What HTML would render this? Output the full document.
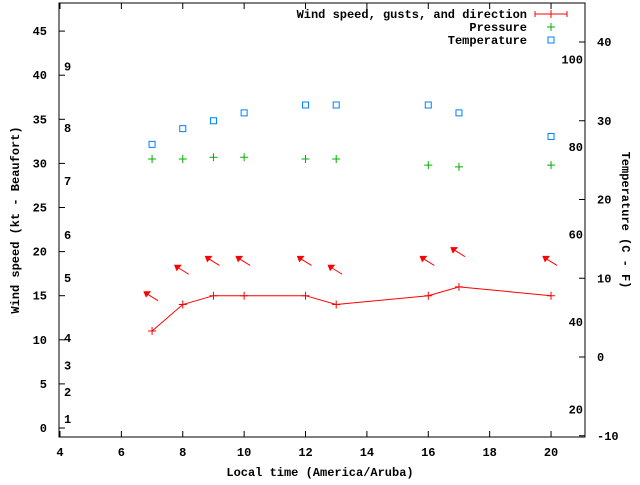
<!DOCTYPE html>
<html><head><meta charset="utf-8"><style>
body{margin:0;background:#fff}
svg text{font-family:"Liberation Mono",monospace;font-size:12px;font-weight:bold;fill:#000}
</style></head><body>
<svg id="c" width="640" height="480" xmlns="http://www.w3.org/2000/svg"></svg>
<script>
const hours=[7,8,9,10,12,13,16,17,20];
const windSpeed=[11,14,15,15,15,14,15,16,15];
const gustArrowY=[15,18,19,19,19,18,19,20,19];
const pressure=[30.5,30.5,30.7,30.7,30.5,30.5,29.8,29.6,29.8];
const temperatureC=[27,29,30,31,32,32,32,31,28];
const xTicks=[4,6,8,10,12,14,16,18,20];
const yTicks=[0,5,10,15,20,25,30,35,40,45];
const cTicks=[-10,0,10,20,30,40];
const fTicks=[20,40,60,80,100];
const beaufort=[[1,1.0],[2,4.1],[3,7.1],[4,10.2],[5,17.0],[6,21.9],[7,28.0],[8,34.0],[9,41.0]];

const L=59,R=585,T=3,B=437;
const X=v=>60+(v-4)*30.69;
const Y=v=>428-v*8.82;
const YC=c=>357-c*7.875;
const NS="http://www.w3.org/2000/svg";
const svg=document.getElementById('c');
function mk(tag,attrs,name,parent){const e=document.createElementNS(NS,tag);for(const k in attrs)e.setAttribute(k,attrs[k]);


(parent||svg).appendChild(e);return e;}
function txt(x,y,s,anchor,name,extra){const t=mk('text',Object.assign({x:x,y:y,'text-anchor':anchor||'start'},extra||{}),name);t.textContent=s;return t;}

mk('rect',{x:L,y:T,width:R-L,height:B-T,fill:'none',stroke:'#000','stroke-width':1},'plot-frame');
xTicks.forEach(v=>{const x=X(v);
mk('line',{x1:x,y1:B,x2:x,y2:B-6,stroke:'#000'},'x-tick');
mk('line',{x1:x,y1:T,x2:x,y2:T+6,stroke:'#000'},'x-tick-top');
txt(x,456,String(v),'middle','x-tick-label');});
yTicks.forEach(v=>{const y=Y(v);
mk('line',{x1:L,y1:y,x2:L+6,y2:y,stroke:'#000'},'y-tick');
txt(47,y+4,String(v),'end','y-tick-label');});
cTicks.forEach(v=>{const y=YC(v);
mk('line',{x1:R,y1:y,x2:R-6,y2:y,stroke:'#000'},'c-tick');
txt(597,y+4,String(v),'start','c-tick-label');});
fTicks.forEach(v=>{const c=(v-32)*5/9;txt(583,YC(c)+4,String(v),'end','f-label');});
beaufort.forEach(b=>txt(64,Y(b[1])+4,String(b[0]),'start','beaufort-label'));

txt(320,476,'Local time (America/Aruba)','middle','x-axis-title');
txt(0,0,'Wind speed (kt - Beaufort)','middle','y-axis-title',{transform:'translate(19,220) rotate(-90)'});
txt(0,0,'Temperature (C - F)','middle','y2-axis-title',{transform:'translate(622,220) rotate(90)'});

// wind line
let d='';hours.forEach((h,i)=>{d+=(i?'L':'M')+X(h)+' '+Y(windSpeed[i]);});
mk('path',{d:d,fill:'none',stroke:'#f00','stroke-width':1},'wind-line');
hours.forEach((h,i)=>{const x=X(h),y=Y(windSpeed[i]);
mk('path',{d:`M${x-4} ${y}h8M${x} ${y-4}v8`,stroke:'#f00'},'wind-point');});
// arrows
hours.forEach((h,i)=>{const x=X(h)-3,y=Y(gustArrowY[i]);
mk('line',{x1:x+9,y1:y+5,x2:x-4,y2:y-3,stroke:'#f00'},'wind-arrow');
mk('path',{d:`M${x-5} ${y-4}l6 0l-4 5z`,fill:'#f00',stroke:'#f00'},'wind-arrow-head');});
// pressure
hours.forEach((h,i)=>{const x=X(h),y=Y(pressure[i]);
mk('path',{d:`M${x-4} ${y}h8M${x} ${y-4}v8`,stroke:'#00b000'},'pressure-point');});
// temperature
hours.forEach((h,i)=>{const x=X(h),y=YC(temperatureC[i]);
mk('rect',{x:x-3,y:y-3,width:6,height:6,fill:'none',stroke:'#0080ff'},'temperature-point');});
// legend
txt(527,18,'Wind speed, gusts, and direction','end','legend-wind');
mk('path',{d:'M535 14h32M535 11v6M567 11v6M551 10v8',stroke:'#f00'},'legend-wind-sample');
txt(527,31,'Pressure','end','legend-pressure');
mk('path',{d:'M547 27h8M551 23v8',stroke:'#00b000'},'legend-pressure-sample');
txt(527,44,'Temperature','end','legend-temperature');
mk('rect',{x:548,y:37,width:6,height:6,fill:'none',stroke:'#0080ff'},'legend-temperature-sample');
</script>
</body></html>
